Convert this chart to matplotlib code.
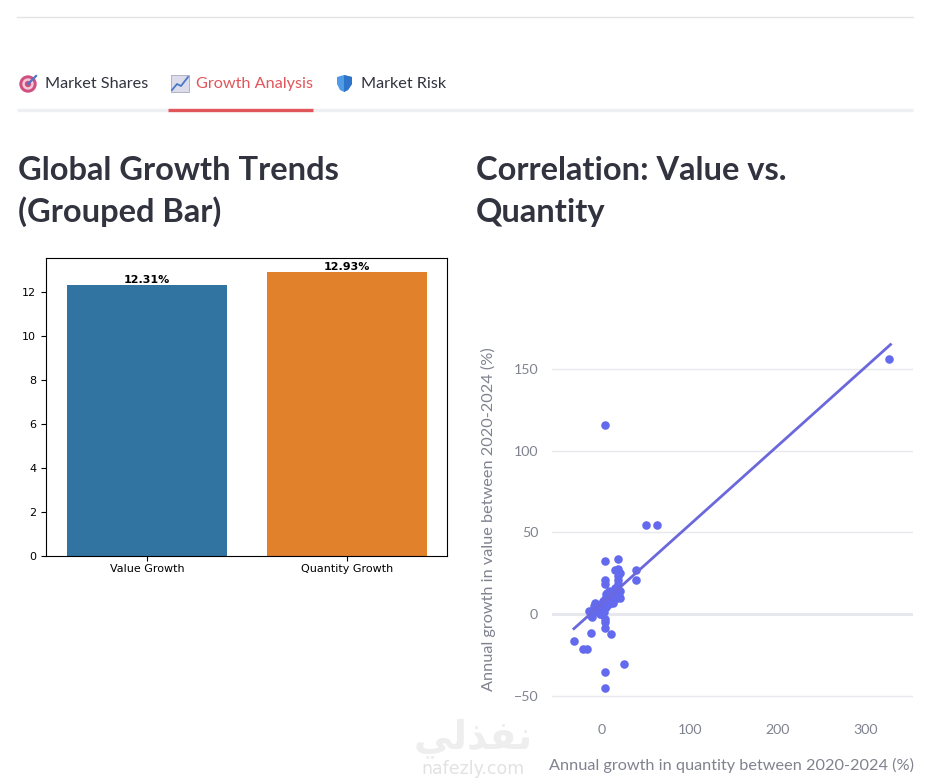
import matplotlib
matplotlib.use('Agg')
import matplotlib.pyplot as plt
from matplotlib.patches import Circle, Rectangle, Polygon

# datos de las barras
bar_labels = ['Value Growth', 'Quantity Growth']
bar_values = [12.31, 12.93]
bar_colors = ['#3274a1', '#e1812c']

# datos del scatter
qty_growth = [327, 3.4, 49.8, 62.7, 3.8, 17.9, 38.8, 38.8, 14.8, 18.6, 20, 18, 18.6, 18.6,
              3.8, 3.8, -32.3, -21.3, -17.5, -12.2, 9.9, 3.8, 3.8, 3.8, 25, 3.8, 3.8,
              -15, -13, -11, -9, -8, -7, -5, -3, -2, -1, 0, 1, 2, 3, 4, 5, 6, 7, 8, 9, 10,
              11, 12, 13, 14, 15, 16, 17, 18, 19, 20, 20, 9, 6, 3, -1, 2, 12, 15, 8, 5, 11]
val_growth = [156, 116, 54.7, 54.7, 32.6, 33.7, 26.7, 20.8, 26.7, 27.3, 25, 23, 20.8, 18.3,
              20.8, 18.3, -16.3, -21.5, -21.5, -11.4, -12.5, -8.4, -3.2, -5, -30.4, -35.5, -45.5,
              2, -1, -2, 5, 7, 3, 1, 4, 0, 6, 2, 8, 1, 9, 4, 12, 7, 10, 6, 13, 8,
              11, 14, 9, 12, 16, 10, 13, 15, 11, 14, 10, 11, 13, 7, 0, 5, 7, 9, 14, 10, 12]
trend_x = [-32, 329]
trend_y = [-9, 165]

fig = plt.figure(figsize=(9.45, 7.79), dpi=100, facecolor='white')
W, H = 945, 779


def px_axes(x0, y0, x1, y1):
    return fig.add_axes([x0 / W, 1 - y1 / H, (x1 - x0) / W, (y1 - y0) / H])


# capa de pagina en pixeles
page = fig.add_axes([0, 0, 1, 1])
page.set_xlim(0, W)
page.set_ylim(H, 0)
page.axis('off')

page.plot([17, 913], [17, 17], color='#e3e4e8', lw=1)
page.plot([17, 913], [109.5, 109.5], color='#eeeff2', lw=2.4, solid_capstyle='butt')
page.plot([168, 313], [109.5, 109.5], color='#e0565b', lw=2.4, solid_capstyle='butt')

ui_font = 'Lato'
page.text(45, 84, 'Market Shares', fontsize=11.7, family=ui_font, color='#31333f', va='center')
page.text(196, 84, 'Growth Analysis', fontsize=11.7, family=ui_font, color='#e0565b', va='center')
page.text(361, 84, 'Market Risk', fontsize=11.7, family=ui_font, color='#31333f', va='center')

# iconos de las pestañas
page.add_patch(Circle((28, 84), 8, color='#cf4f7f'))
page.add_patch(Circle((28, 84), 5, color='#f4c9d8'))
page.add_patch(Circle((28, 84), 2.5, color='#cf4f7f'))
page.plot([28, 36], [84, 76], color='#4a78c8', lw=1.6)
page.add_patch(Rectangle((171, 75), 18, 17, facecolor='#dcdcea', edgecolor='#a8a8c0', lw=0.6))
page.plot([172, 177, 181, 188], [90, 84, 86, 77], color='#4a78c8', lw=1.3)
page.add_patch(Polygon([(337, 77), (344, 75), (352, 77), (352, 84), (348, 90), (344, 92), (340, 90), (337, 84)],
                       facecolor='#4f9be8', edgecolor='none'))
page.add_patch(Polygon([(344, 75), (352, 77), (352, 84), (348, 90), (344, 92)],
                       facecolor='#2f74c8', edgecolor='none'))

# titulos
for x, y, txt in [(18, 170, 'Global Growth Trends'), (18, 212, '(Grouped Bar)'),
                  (476, 170, 'Correlation: Value vs.'), (476, 212, 'Quantity')]:
    page.text(x, y, txt, fontsize=23.5, family=ui_font, weight='bold', color='#31333f', va='center')

# grafico de barras
ax1 = px_axes(46, 258, 447, 556)
ax1.bar(bar_labels, bar_values, color=bar_colors, width=0.8)
ax1.set_xlim(-0.505, 1.5)
ax1.set_ylim(0, 13.55)
ax1.set_yticks([0, 2, 4, 6, 8, 10, 12])
ax1.tick_params(labelsize=8)
ax1.tick_params(axis='x', pad=2)
for i, v in enumerate(bar_values):
    ax1.text(i, v, f'{v:.2f}%', ha='center', va='bottom', fontsize=8, weight='bold', color='black')

# grafico de dispersion
ax2 = px_axes(552, 330, 913, 710)
ax2.scatter(qty_growth, val_growth, s=38, color='#636aed', linewidths=0, zorder=3)
ax2.plot(trend_x, trend_y, color='#6a68dc', lw=2, zorder=3)
ax2.set_xlim(-57, 354.6)
ax2.set_ylim(-58.8, 173.9)
ax2.set_xticks([0, 100, 200, 300])
ax2.set_yticks([-50, 0, 50, 100, 150])
ax2.grid(axis='y', color='#e6e8ee', lw=1)
ax2.set_axisbelow(True)
for s in ax2.spines.values():
    s.set_visible(False)
ax2.axhline(0, color='#e6e8ee', lw=2.2, zorder=1)
ax2.tick_params(length=0, labelsize=10.2, labelcolor='#80838f', pad=10)
for t in ax2.get_xticklabels() + ax2.get_yticklabels():
    t.set_family(ui_font)
page.text(731.5, 765, 'Annual growth in quantity between 2020-2024 (%)', fontsize=11.7, family=ui_font,
          color='#80838f', ha='center', va='center')
page.text(488, 519, 'Annual growth in value between 2020-2024 (%)', fontsize=11.7, family=ui_font,
          color='#80838f', ha='center', va='center', rotation=90)

# marca de agua
page.set_zorder(5)
page.patch.set_alpha(0)
page.text(473, 738, '\ufef2\ufedf\ufeac\ufed4\ufee7', fontsize=28, family='DejaVu Sans', weight='bold',
          color='#eeeeee', ha='center', va='center')
page.text(473, 769, 'nafezly.com', fontsize=12.5, family='DejaVu Sans', color='#e2e2e2', ha='center', va='center')

fig.savefig('out.png', dpi=100)
